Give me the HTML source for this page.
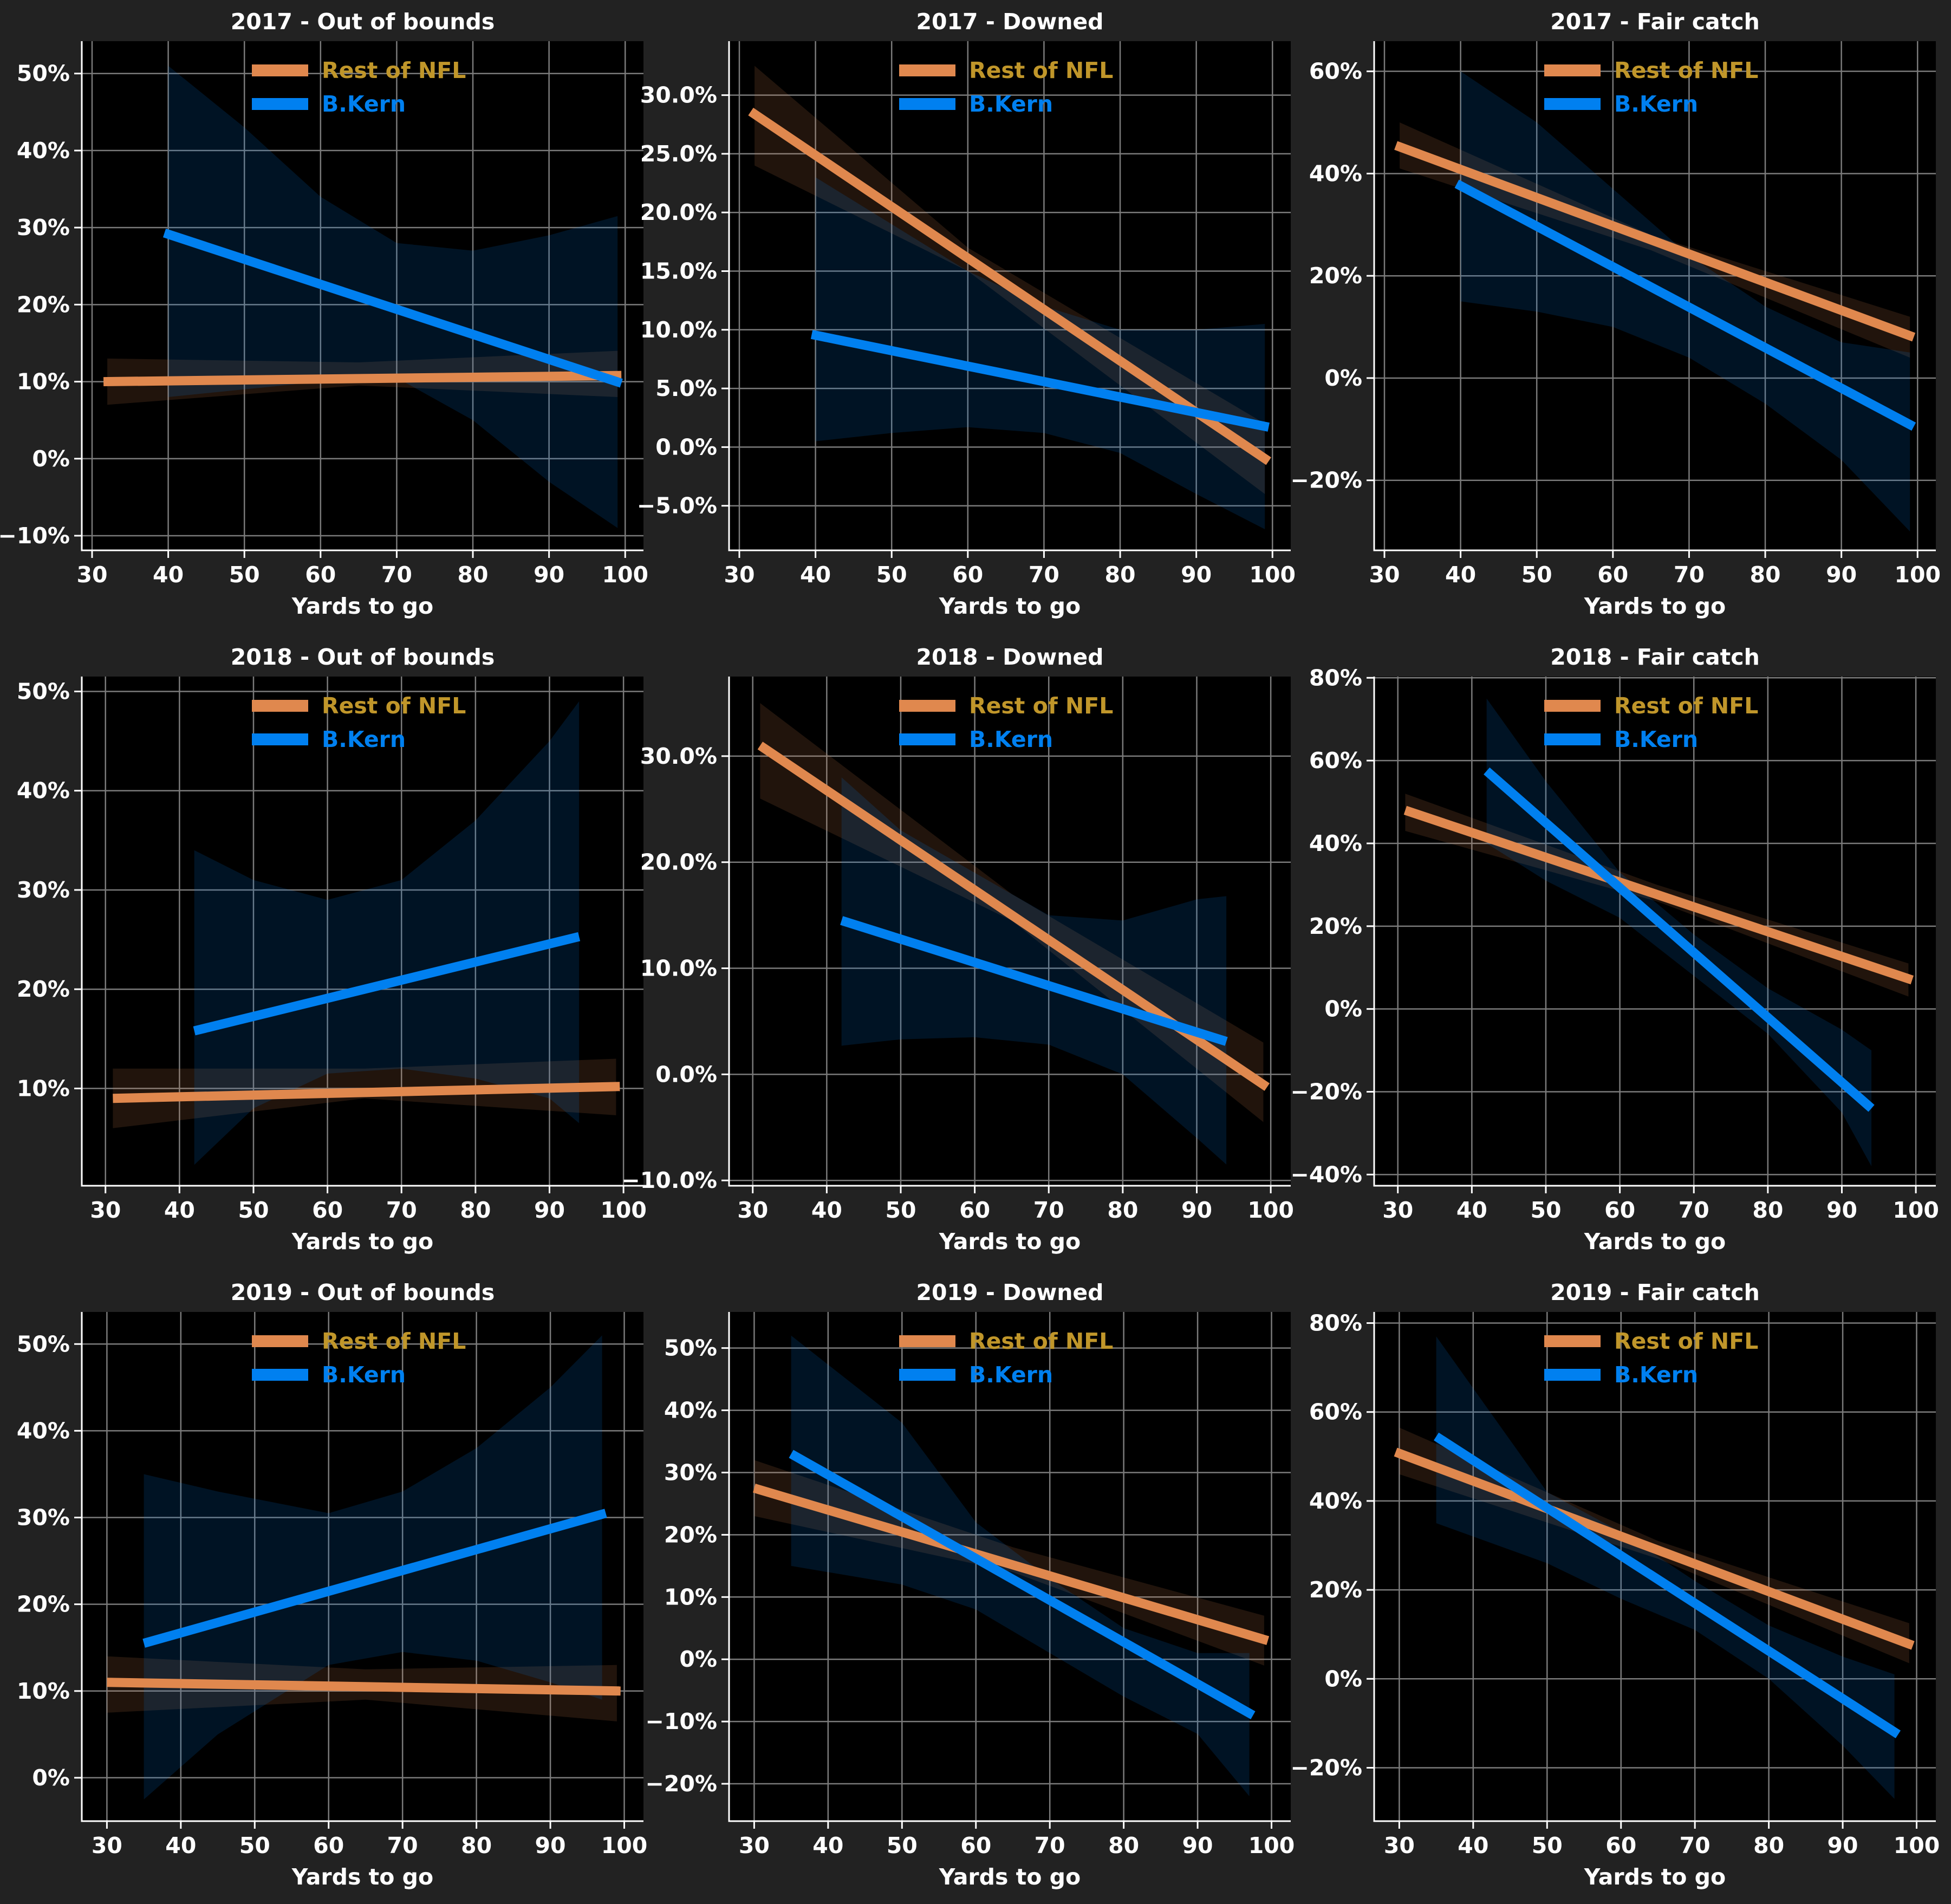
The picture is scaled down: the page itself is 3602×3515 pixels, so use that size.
<!DOCTYPE html>
<html><head><meta charset="utf-8"><style>
html,body{margin:0;padding:0;background:#222222;}
svg{display:block;font-family:"DejaVu Sans","Liberation Sans",sans-serif;font-weight:bold;}
</style></head><body>
<svg id="fig" width="3602" height="3515" viewBox="0 0 3602 3515" xmlns="http://www.w3.org/2000/svg">
<rect x="0" y="0" width="3602" height="3515" fill="#222222"/>
</svg>
<script>
const titles=["2017 - Out of bounds","2017 - Downed","2017 - Fair catch","2018 - Out of bounds","2018 - Downed","2018 - Fair catch","2019 - Out of bounds","2019 - Downed","2019 - Fair catch"];
const yTicks=[[-10,0,10,20,30,40,50],[-5,0,5,10,15,20,25,30],[-20,0,20,40,60],[10,20,30,40,50],[-10,0,10,20,30],[-40,-20,0,20,40,60,80],[0,10,20,30,40,50],[-20,-10,0,10,20,30,40,50],[-20,0,20,40,60,80]];
const yDecimals=[0,1,0,0,1,0,0,0,0];
const yRange=[[-11.9,54.2],[-8.8,34.6],[-33.7,65.9],[0.2,51.5],[-10.5,37.5],[-42.7,80.3],[-5.0,53.7],[-26,55.8],[-32,82.5]];
const xRange=[[28.65,102.4],[28.65,102.4],[28.65,102.4],[26.8,102.7],[26.8,102.7],[26.8,102.7],[26.6,102.6],[26.6,102.6],[26.6,102.6]];
const xTicks=[30,40,50,60,70,80,90,100];
const restX=[[31.5,99.5],[31.5,99.5],[31.5,99.5],[31,99.5],[31,99.5],[31,99.5],[30,99.5],[30,99.5],[29.5,99.5]];
const restY=[[10.0,10.8],[28.6,-1.2],[45.5,8],[9.0,10.2],[31,-1.2],[48,7],[11,10],[27.5,3],[51,7.5]];
const kernX=[[39.5,99.5],[39.5,99.5],[39.5,99.5],[42,94],[42,94],[42,94],[35,97.5],[35,97.5],[35,97.5]];
const kernY=[[29.3,9.8],[9.6,1.7],[38,-9.5],[15.8,25.3],[14.5,3.1],[57.5,-24],[15.5,30.5],[33,-9],[54.5,-12.5]];
const restBandX=[[32,65,99],[32,60,99],[32,65,99],[31,65,99],[31,65,99],[31,65,99],[30,65,99],[30,65,99],[30,65,99]];
const restBandUp=[[13,12.5,14],[32.5,17,2],[50,28,12],[12,12,13],[35,17,3],[52,30,11],[14,12.5,13],[32,18,7],[56.5,31,12.5]];
const restBandLo=[[7,9.5,8],[24,15,-4],[41,25,4],[6,9,7.3],[26,14.5,-4.5],[43,26,3],[7.5,9,6.5],[23,14,-1],[46,27,3.5]];
const kernBandX=[[40,50,60,70,80,90,99],[40,50,60,70,80,90,99],[40,50,60,70,80,90,99],[42,50,60,70,80,90,94],[42,50,60,70,80,90,94],[42,50,60,70,80,90,94],[35,45,60,70,80,90,97],[35,50,60,70,80,90,97],[35,50,60,70,80,90,97]];
const kernBandUp=[[51,43,34,28,27,29,31.5],[23,19,15,12,10,10,10.5],[60,50,37,24,14,7,5],[34,31,29,31,37,45,49],[28,23,19,15,14.5,16.5,16.8],[75,55,33,18,5,-5,-10],[35,33,30.5,33,38,45,51],[52,38,22,13,5,1,1],[77,42,33,22,12,5,1]];
const kernBandLo=[[8,9,10,10.5,5,-3,-9],[0.5,1.2,1.7,1.2,-0.5,-4,-7],[15,13,10,4,-5,-16,-30],[2.3,8,11.5,12,11,9,6.5],[2.7,3.3,3.5,2.8,0,-6,-8.5],[40,31,22,8,-6,-25,-38],[-2.5,5,13,14.5,13.5,11,9],[15,12,8,1,-6,-12,-22],[35,26,18,11,0,-15,-27]];

const NS="http://www.w3.org/2000/svg";
const svg=document.getElementById('fig');
function el(tag,attrs,parent){const e=document.createElementNS(NS,tag);for(const k in attrs)e.setAttribute(k,attrs[k]);(parent||svg).appendChild(e);return e;}
const colLeft=[151,1346,2537], rowTop=[76,1249,2422], W=1037, H=940;
const ORANGE="#e0884e", BLUE="#0080f0";
const FS=41;
function fmt(v,d){const s=Math.abs(v).toFixed(d)+"%";return v<0?"\u2212"+s:s;}

for(let p=0;p<9;p++){
  const L=colLeft[p%3], T=rowTop[Math.floor(p/3)];
  const [x0,x1]=xRange[p], [y0,y1]=yRange[p];
  const sx=v=>L+(v-x0)/(x1-x0)*W;
  const sy=v=>T+H-(v-y0)/(y1-y0)*H;
  const g=el('g',{});
  
  
  const bg=el('rect',{x:L,y:T,width:W,height:H,fill:'#000'},g);
  
  
  const cp=el('clipPath',{id:'c'+p},g); el('rect',{x:L,y:T,width:W,height:H},cp);
  xTicks.forEach(t=>{const x=sx(t);
    const gl=el('line',{x1:x,x2:x,y1:T,y2:T+H,stroke:'#7a7a7a','stroke-width':2.5},g);
    
    
    el('line',{x1:x,x2:x,y1:T+H,y2:T+H+14,stroke:'#fff','stroke-width':3},g);
    const tl=el('text',{x:x,y:T+H+59,'text-anchor':'middle','font-size':FS,fill:'#fff'},g);
    tl.textContent=t;
    
    
  });
  yTicks[p].forEach(t=>{const y=sy(t);
    const gl=el('line',{x1:L,x2:L+W,y1:y,y2:y,stroke:'#7a7a7a','stroke-width':2.5},g);
    
    
    el('line',{x1:L-14,x2:L,y1:y,y2:y,stroke:'#fff','stroke-width':3},g);
    const tl=el('text',{x:L-22,y:y+14,'text-anchor':'end','font-size':FS,fill:'#fff'},g);
    tl.textContent=fmt(t,yDecimals[p]);
    
    
  });
  const cg=el('g',{'clip-path':'url(#c'+p+')'},g);
  function band(xs,up,lo,fill,name){
    let pts=xs.map((x,i)=>sx(x)+','+sy(up[i]));
    for(let i=xs.length-1;i>=0;i--)pts.push(sx(xs[i])+','+sy(lo[i]));
    const b=el('polygon',{points:pts.join(' '),fill:fill},cg);
    
    
  }
  band(restBandX[p],restBandUp[p],restBandLo[p],'rgba(224,136,78,0.15)','rest-ci-band');
  band(kernBandX[p],kernBandUp[p],kernBandLo[p],'rgba(0,128,240,0.15)','kern-ci-band');
  const rl=el('line',{x1:sx(restX[p][0]),y1:sy(restY[p][0]),x2:sx(restX[p][1]),y2:sy(restY[p][1]),stroke:ORANGE,'stroke-width':17},g);
  
  
  const kl=el('line',{x1:sx(kernX[p][0]),y1:sy(kernY[p][0]),x2:sx(kernX[p][1]),y2:sy(kernY[p][1]),stroke:BLUE,'stroke-width':17},g);
  
  
  el('line',{x1:L,x2:L,y1:T,y2:T+H+1.5,stroke:'#fff','stroke-width':3},g);
  el('line',{x1:L-1.5,x2:L+W,y1:T+H,y2:T+H,stroke:'#fff','stroke-width':3},g);
  const lg=el('g',{},g);
  
  
  el('line',{x1:L+314,x2:L+418,y1:T+54,y2:T+54,stroke:ORANGE,'stroke-width':22},lg);
  const t1=el('text',{x:L+443,y:T+68,'font-size':FS,fill:'#c0962a'},lg); t1.textContent="Rest of NFL";
  
  
  el('line',{x1:L+314,x2:L+418,y1:T+116,y2:T+116,stroke:BLUE,'stroke-width':22},lg);
  const t2=el('text',{x:L+443,y:T+130,'font-size':FS,fill:BLUE},lg); t2.textContent="B.Kern";
  
  
  const tt=el('text',{x:L+W/2,y:T-22,'text-anchor':'middle','font-size':FS,fill:'#fff'},g);
  tt.textContent=titles[p];
  
  
  const xl=el('text',{x:L+W/2,y:T+H+117,'text-anchor':'middle','font-size':FS,fill:'#fff'},g);
  xl.textContent="Yards to go";
  
  
}
</script>
</body></html>
